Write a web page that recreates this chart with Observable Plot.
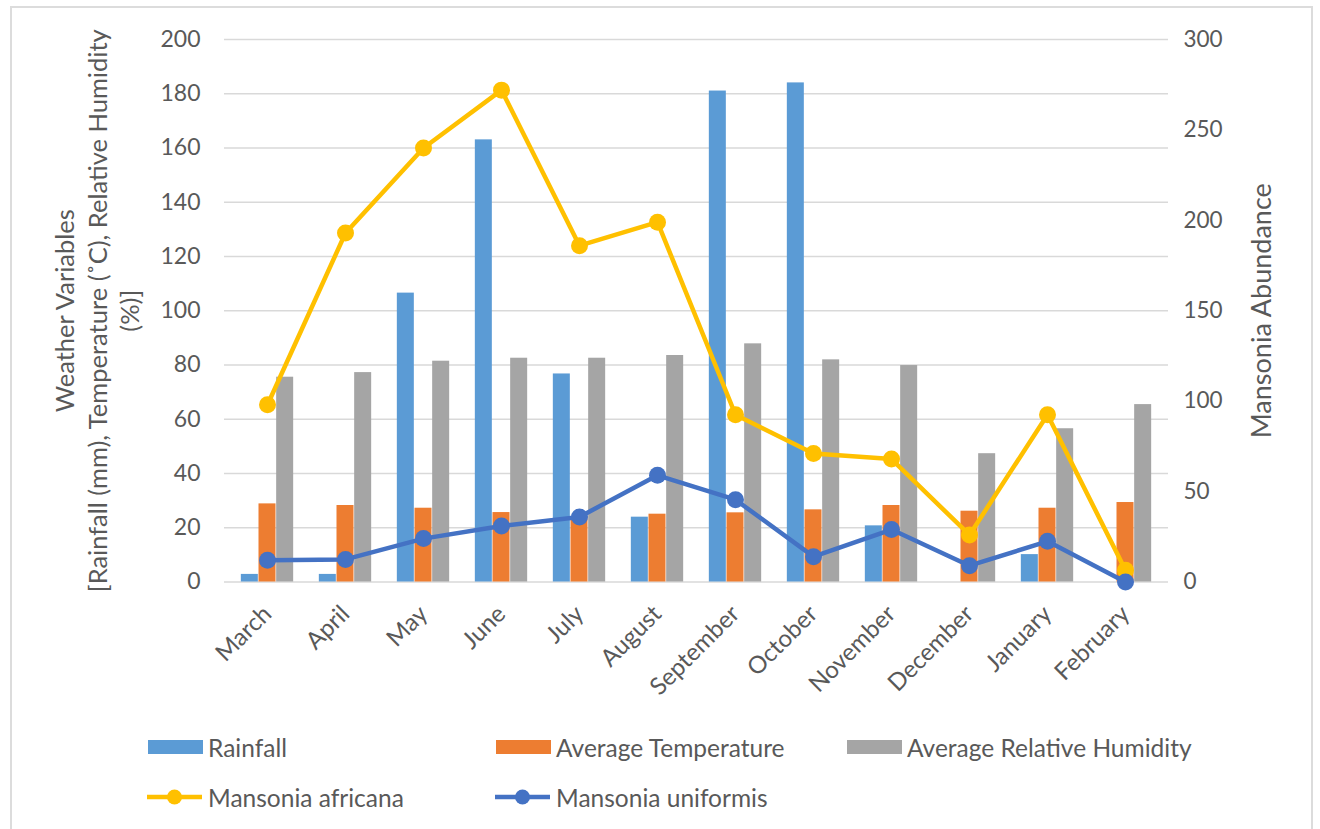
<!DOCTYPE html>
<html>
<head>
<meta charset="utf-8">
<script src="https://cdn.jsdelivr.net/npm/d3@7"></script>
<script src="https://cdn.jsdelivr.net/npm/@observablehq/plot@0.6"></script>
<style>
  html, body { margin: 0; padding: 0; background: #fff; }
  body { width: 1320px; height: 829px; position: relative; overflow: hidden; font-family: Lato, "Open Sans", sans-serif; }
  #frame { position: absolute; left: 10px; top: 6px; width: 1303px; height: 840px; border: 2px solid #dcdcdc; box-sizing: border-box; }
  #chart { position: absolute; left: 0; top: 0; }
  .leg { position: absolute; display: flex; align-items: center; font-size: 24.5px; color: #595959; white-space: nowrap; }
  .sw { display: inline-block; width: 55px; height: 14px; margin-right: 5px; }
  .lsw { margin-right: 5px; }
</style>
</head>
<body>
<div id="frame"></div>
<div id="chart"></div>
<div id="legend"></div>
<script>
const months = ["March","April","May","June","July","August","September","October","November","December","January","February"];
const rainfall = [2.8, 2.8, 106.5, 163, 76.7, 23.9, 181, 184, 20.7, 0, 10.1, 0];
const temperature = [28.8, 28.2, 27.2, 25.6, 24, 25, 25.5, 26.6, 28.2, 26.1, 27.2, 29.3];
const humidity = [75.5, 77.2, 81.4, 82.5, 82.5, 83.5, 87.8, 81.9, 79.8, 47.3, 56.5, 65.4];
const africana = [98, 193, 240, 272, 186, 199, 92.5, 71, 68, 26, 92.5, 6.5];
const uniformis = [12, 12.5, 24, 31, 36, 59, 45.5, 14, 29, 9, 22.5, 0];
const leftTicks = [0, 20, 40, 60, 80, 100, 120, 140, 160, 180, 200];
const rightTicks = [0, 50, 100, 150, 200, 250, 300];

const colors = {rain: "#5B9BD5", temp: "#ED7D31", hum: "#A5A5A5", afr: "#FFC000", uni: "#4472C4"};

const table = months.map((m, i) => ({
  month: m, rainfall: rainfall[i], temperature: temperature[i], humidity: humidity[i],
  africana: africana[i], uniformis: uniformis[i]
}));

const W = 1320, H = 700, ML = 224, MR = 152, MT = 39, MB = 118.5;
const bw = (W - ML - MR) / months.length;
const g = 53, bwid = g / 3, off = (bw - g) / 2;
const ratio = 200 / 300;

const chart = Plot.plot({
  width: W, height: H, marginLeft: ML, marginRight: MR, marginTop: MT, marginBottom: MB,
  x: {domain: months, padding: 0, axis: null},
  y: {domain: [0, 200], axis: null},
  style: {fontFamily: "Lato, 'Open Sans', sans-serif", color: "#595959", background: "transparent", overflow: "visible"},
  marks: [
    Plot.gridY(leftTicks, {stroke: "#d9d9d9", strokeOpacity: 1, strokeWidth: 1.5}),
    Plot.axisY(leftTicks, {anchor: "left", tickSize: 0, tickPadding: 24, fontSize: 23, label: null, fill: "#595959"}),
    Plot.axisY(rightTicks.map(v => v * ratio), {anchor: "right", tickSize: 0, tickPadding: 15, fontSize: 22.5, label: null, fill: "#595959", tickFormat: v => String(Math.round(v / ratio))}),
    Plot.axisX({tickSize: 0, tickRotate: -45, tickPadding: 28, fontSize: 24, label: null, fill: "#595959"}),
    Plot.barY(table, {x: "month", y: "rainfall", fill: colors.rain, insetLeft: off, insetRight: bw - off - bwid}),
    Plot.barY(table, {x: "month", y: "temperature", fill: colors.temp, insetLeft: off + bwid, insetRight: bw - off - 2 * bwid}),
    Plot.barY(table, {x: "month", y: "humidity", fill: colors.hum, insetLeft: off + 2 * bwid, insetRight: bw - off - 3 * bwid}),
    Plot.line(table, {x: "month", y: d => d.africana * ratio, stroke: colors.afr, strokeWidth: 4.5}),
    Plot.dot(table, {x: "month", y: d => d.africana * ratio, fill: colors.afr, r: 8.5}),
    Plot.line(table, {x: "month", y: d => d.uniformis * ratio, stroke: colors.uni, strokeWidth: 4.5}),
    Plot.dot(table, {x: "month", y: d => d.uniformis * ratio, fill: colors.uni, r: 8.5}),
    Plot.text(["Weather Variables\n[Rainfall (mm), Temperature (˚C), Relative Humidity\n(%)]"], {frameAnchor: "left", textAnchor: "middle", lineAnchor: "middle", rotate: -90, dx: -128, fontSize: 25.5, lineHeight: 1.27, fill: "#595959"}),
    Plot.text(["Mansonia Abundance"], {frameAnchor: "right", textAnchor: "middle", lineAnchor: "middle", rotate: -90, dx: 94, fontSize: 27, fill: "#595959"})
  ]
});
document.getElementById("chart").appendChild(chart);

// Legend
const legendItems = [
  {label: "Rainfall", color: colors.rain, type: "bar", left: 148, top: 747},
  {label: "Average Temperature", color: colors.temp, type: "bar", left: 496, top: 747},
  {label: "Average Relative Humidity", color: colors.hum, type: "bar", left: 847, top: 747},
  {label: "Mansonia africana", color: colors.afr, type: "line", left: 146, top: 797},
  {label: "Mansonia uniformis", color: colors.uni, type: "line", left: 494, top: 797}
];
const leg = document.getElementById("legend");
legendItems.forEach(it => {
  const d = document.createElement("div");
  d.className = "leg";
  d.style.left = it.left + "px";
  d.style.top = (it.top - 15) + "px";
  d.style.height = "30px";
  if (it.type === "bar") {
    d.innerHTML = `<span class="sw" style="background:${it.color}"></span><span>${it.label}</span>`;
  } else {
    d.innerHTML = `<svg class="lsw" width="57" height="20"><line x1="1" y1="10" x2="56" y2="10" stroke="${it.color}" stroke-width="4.5"/><circle cx="28.5" cy="10" r="7.5" fill="${it.color}"/></svg><span>${it.label}</span>`;
  }
  leg.appendChild(d);
});
</script>
</body>
</html>
